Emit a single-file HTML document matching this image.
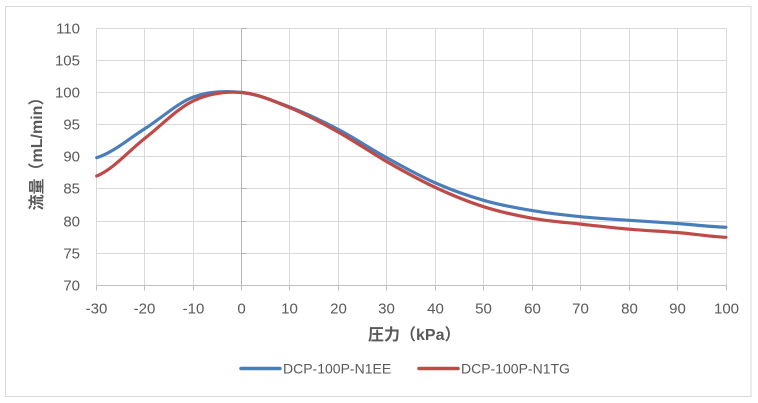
<!DOCTYPE html>
<html>
<head>
<meta charset="utf-8">
<style>
  html,body{margin:0;padding:0;background:#fff;}
  svg{display:block;}
  text{font-family:"Liberation Sans","Noto Sans CJK JP",sans-serif;fill:#595959;}
</style>
</head>
<body>
<svg width="758" height="403" viewBox="0 0 758 403" xmlns="http://www.w3.org/2000/svg">
  <rect x="0" y="0" width="758" height="403" fill="#fff"/>
  <rect x="5.5" y="6.5" width="745.5" height="390" fill="#fff" stroke="#d9d9d9" stroke-width="1"/>

  <!-- horizontal gridlines -->
  <g stroke="#d9d9d9" stroke-width="1">
    <line x1="96.5" y1="28.5" x2="726.5" y2="28.5"/>
    <line x1="96.5" y1="60.5" x2="726.5" y2="60.5"/>
    <line x1="96.5" y1="92.5" x2="726.5" y2="92.5"/>
    <line x1="96.5" y1="124.5" x2="726.5" y2="124.5"/>
    <line x1="96.5" y1="156.5" x2="726.5" y2="156.5"/>
    <line x1="96.5" y1="188.5" x2="726.5" y2="188.5"/>
    <line x1="96.5" y1="221.5" x2="726.5" y2="221.5"/>
    <line x1="96.5" y1="253.5" x2="726.5" y2="253.5"/>
  </g>
  <!-- vertical gridlines -->
  <g stroke="#d9d9d9" stroke-width="1">
    <line x1="96.5" y1="28.5" x2="96.5" y2="285.5"/>
    <line x1="144.5" y1="28.5" x2="144.5" y2="285.5"/>
    <line x1="193.5" y1="28.5" x2="193.5" y2="285.5"/>
    <line x1="289.5" y1="28.5" x2="289.5" y2="285.5"/>
    <line x1="338.5" y1="28.5" x2="338.5" y2="285.5"/>
    <line x1="386.5" y1="28.5" x2="386.5" y2="285.5"/>
    <line x1="435.5" y1="28.5" x2="435.5" y2="285.5"/>
    <line x1="483.5" y1="28.5" x2="483.5" y2="285.5"/>
    <line x1="532.5" y1="28.5" x2="532.5" y2="285.5"/>
    <line x1="580.5" y1="28.5" x2="580.5" y2="285.5"/>
    <line x1="629.5" y1="28.5" x2="629.5" y2="285.5"/>
    <line x1="677.5" y1="28.5" x2="677.5" y2="285.5"/>
    <line x1="726.5" y1="28.5" x2="726.5" y2="285.5"/>
  </g>
  <!-- vertical axis at 0 -->
  <g stroke="#b3b3b3" stroke-width="1">
    <line x1="241.5" y1="28.5" x2="241.5" y2="285.5"/>
    <line x1="241.5" y1="28.5" x2="246.5" y2="28.5"/>
    <line x1="241.5" y1="60.5" x2="246.5" y2="60.5"/>
    <line x1="241.5" y1="92.5" x2="246.5" y2="92.5"/>
    <line x1="241.5" y1="124.5" x2="246.5" y2="124.5"/>
    <line x1="241.5" y1="156.5" x2="246.5" y2="156.5"/>
    <line x1="241.5" y1="188.5" x2="246.5" y2="188.5"/>
    <line x1="241.5" y1="221.5" x2="246.5" y2="221.5"/>
    <line x1="241.5" y1="253.5" x2="246.5" y2="253.5"/>
  </g>
  <!-- horizontal axis -->
  <g stroke="#bfbfbf" stroke-width="1">
    <line x1="96.5" y1="285.5" x2="726.5" y2="285.5"/>
    <line x1="96.5" y1="285.5" x2="96.5" y2="290.5"/>
    <line x1="144.5" y1="285.5" x2="144.5" y2="290.5"/>
    <line x1="193.5" y1="285.5" x2="193.5" y2="290.5"/>
    <line x1="241.5" y1="285.5" x2="241.5" y2="290.5"/>
    <line x1="289.5" y1="285.5" x2="289.5" y2="290.5"/>
    <line x1="338.5" y1="285.5" x2="338.5" y2="290.5"/>
    <line x1="386.5" y1="285.5" x2="386.5" y2="290.5"/>
    <line x1="435.5" y1="285.5" x2="435.5" y2="290.5"/>
    <line x1="483.5" y1="285.5" x2="483.5" y2="290.5"/>
    <line x1="532.5" y1="285.5" x2="532.5" y2="290.5"/>
    <line x1="580.5" y1="285.5" x2="580.5" y2="290.5"/>
    <line x1="629.5" y1="285.5" x2="629.5" y2="290.5"/>
    <line x1="677.5" y1="285.5" x2="677.5" y2="290.5"/>
    <line x1="726.5" y1="285.5" x2="726.5" y2="290.5"/>
  </g>

  <!-- y tick labels -->
  <g font-size="15" text-anchor="end">
    <text x="80" y="33.5">110</text>
    <text x="80" y="65.5">105</text>
    <text x="80" y="97.5">100</text>
    <text x="80" y="129.5">95</text>
    <text x="80" y="161.5">90</text>
    <text x="80" y="193.5">85</text>
    <text x="80" y="226.5">80</text>
    <text x="80" y="258.5">75</text>
    <text x="80" y="290.5">70</text>
  </g>
  <!-- x tick labels -->
  <g font-size="15" text-anchor="middle">
    <text x="96.5" y="313.5">-30</text>
    <text x="144.5" y="313.5">-20</text>
    <text x="193.5" y="313.5">-10</text>
    <text x="241.5" y="313.5">0</text>
    <text x="289.5" y="313.5">10</text>
    <text x="338.5" y="313.5">20</text>
    <text x="386.5" y="313.5">30</text>
    <text x="435.5" y="313.5">40</text>
    <text x="483.5" y="313.5">50</text>
    <text x="532.5" y="313.5">60</text>
    <text x="580.5" y="313.5">70</text>
    <text x="629.5" y="313.5">80</text>
    <text x="677.5" y="313.5">90</text>
    <text x="726.5" y="313.5">100</text>
  </g>

  <!-- axis titles -->
  <text x="368" y="340" font-size="16" font-weight="bold">圧力（kPa）</text>
  <text transform="translate(42,150) rotate(-90)" font-size="16" font-weight="bold" text-anchor="middle">流量（mL/min）</text>

  <!-- series -->
  <path fill="none" stroke="#4a7ebb" stroke-width="3.2" stroke-linejoin="round" stroke-linecap="round"
    d="M96.7,157.7 C112.8,152.8 129.0,138.6 145.1,128.5 C161.2,118.4 177.4,103.0 193.5,97.0 C209.6,91.0 225.8,90.8 241.9,92.5 C258.0,94.2 274.2,101.1 290.3,107.3 C306.4,113.5 322.6,121.3 338.7,129.7 C354.8,138.2 371.0,149.1 387.1,158.0 C403.2,166.9 419.4,175.9 435.5,183.0 C451.6,190.1 467.8,195.8 483.9,200.4 C500.0,205.0 516.2,207.9 532.3,210.6 C548.4,213.3 564.6,215.1 580.7,216.7 C596.8,218.3 613.0,219.2 629.1,220.3 C645.2,221.4 661.4,222.3 677.5,223.5 C693.6,224.7 709.8,226.7 725.9,227.3"/>
  <path fill="none" stroke="#be4b48" stroke-width="3.2" stroke-linejoin="round" stroke-linecap="round"
    d="M96.7,176.0 C112.8,169.7 129.0,150.6 145.1,138.1 C161.2,125.6 177.4,108.4 193.5,100.8 C209.6,93.2 225.8,91.3 241.9,92.5 C258.0,93.7 274.2,101.3 290.3,107.9 C306.4,114.5 322.6,123.3 338.7,132.3 C354.8,141.3 371.0,152.6 387.1,161.8 C403.2,171.0 419.4,180.0 435.5,187.5 C451.6,195.0 467.8,201.7 483.9,206.8 C500.0,211.9 516.2,215.4 532.3,218.3 C548.4,221.2 564.6,222.3 580.7,224.1 C596.8,225.9 613.0,227.8 629.1,229.2 C645.2,230.6 661.4,231.2 677.5,232.5 C693.6,233.9 709.8,236.5 725.9,237.3"/>

  <!-- legend -->
  <line x1="241" y1="368.5" x2="280" y2="368.5" stroke="#4a7ebb" stroke-width="3.5" stroke-linecap="round"/>
  <text x="283" y="373.5" font-size="14">DCP-100P-N1EE</text>
  <line x1="419" y1="368.5" x2="458" y2="368.5" stroke="#be4b48" stroke-width="3.5" stroke-linecap="round"/>
  <text x="461" y="373.5" font-size="14">DCP-100P-N1TG</text>
</svg>
</body>
</html>
